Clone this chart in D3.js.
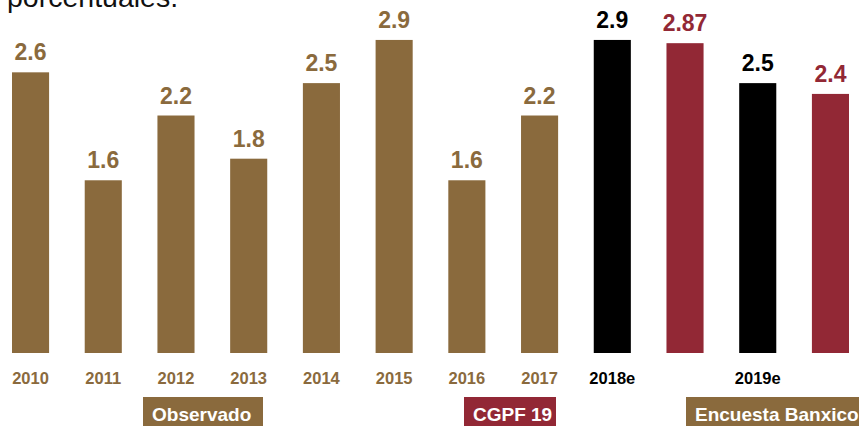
<!DOCTYPE html>
<html>
<head>
<meta charset="utf-8">
<script src="https://cdn.jsdelivr.net/npm/d3@7"></script>
<style>
  html, body { margin: 0; padding: 0; background: #fff; }
  svg { display: block; }
</style>
</head>
<body>
<svg id="chart" width="859" height="426"></svg>
<script>
// ---- data ----
const categories = ["2010","2011","2012","2013","2014","2015","2016","2017","2018e","2018c","2019e","2019c"];
const tickLabels = ["2010","2011","2012","2013","2014","2015","2016","2017","2018e","","2019e",""];
const values     = [2.6, 1.6, 2.2, 1.8, 2.5, 2.9, 1.6, 2.2, 2.9, 2.87, 2.5, 2.4];
const valueLabels = ["2.6","1.6","2.2","1.8","2.5","2.9","1.6","2.2","2.9","2.87","2.5","2.4"];
const groups     = ["obs","obs","obs","obs","obs","obs","obs","obs","banxico","cgpf","banxico","cgpf"];
const legendLabels = ["Observado","CGPF 19","Encuesta Banxico"];
const titleText = "porcentuales.";

const GOLD = "#8a6a3d", RED = "#922835", BLACK = "#000000";
const barColor = {obs: GOLD, cgpf: RED, banxico: BLACK};
const labelColor = {obs: GOLD, cgpf: RED, banxico: BLACK};

const svg = d3.select("#chart");

const x = d3.scaleBand().domain(categories).range([12, 849]).paddingInner(0.49).paddingOuter(0);
const y = d3.scaleLinear().domain([0, 3.27]).range([353, 0]);

const data = categories.map((c, i) => ({c, v: values[i], lab: valueLabels[i], g: groups[i], t: tickLabels[i]}));

// title (cut off at top, as in the reference)
svg.append("text")
  .attr("x", 7).attr("y", 7)
  .attr("font-family", "Liberation Sans, Arial, sans-serif")
  .attr("font-size", 28.5)
  .attr("fill", "#111")
  .text(titleText);

// bars
svg.selectAll("rect.bar").data(data).join("rect")
  .attr("class", "bar")
  .attr("x", d => x(d.c))
  .attr("width", x.bandwidth())
  .attr("y", d => y(d.v))
  .attr("height", d => y(0) - y(d.v))
  .attr("fill", d => barColor[d.g]);

// value labels
svg.selectAll("text.val").data(data).join("text")
  .attr("class", "val")
  .attr("x", d => x(d.c) + x.bandwidth() / 2)
  .attr("y", d => y(d.v) - 12)
  .attr("text-anchor", "middle")
  .attr("font-family", "Liberation Sans, Arial, sans-serif")
  .attr("font-weight", 700)
  .attr("font-size", 23)
  .attr("fill", d => labelColor[d.g])
  .text(d => d.lab);

// x axis tick labels
const xAxis = d3.axisBottom(x).tickSize(0).tickFormat((d, i) => tickLabels[i]);
const ax = svg.append("g").attr("transform", "translate(0,370)").call(xAxis);
ax.select(".domain").remove();
ax.selectAll("text")
  .attr("dy", 0).attr("y", 14)
  .attr("font-family", "Liberation Sans, Arial, sans-serif")
  .attr("font-weight", 700)
  .attr("font-size", 16.5)
  .attr("fill", (d, i) => (groups[i] === "obs" ? GOLD : BLACK));

// legend boxes
const legendBoxes = [
  {label: legendLabels[0], color: GOLD, x0: 143, x1: 263},
  {label: legendLabels[1], color: RED, x0: 464, x1: 556},
  {label: legendLabels[2], color: GOLD, x0: 686, x1: 870}
];
const lg = svg.append("g");
lg.selectAll("rect").data(legendBoxes).join("rect")
  .attr("x", d => d.x0).attr("y", 397)
  .attr("width", d => d.x1 - d.x0).attr("height", 29)
  .attr("fill", d => d.color);
lg.selectAll("text").data(legendBoxes).join("text")
  .attr("x", d => d.x0 + 9).attr("y", 421)
  .attr("font-family", "Liberation Sans, Arial, sans-serif")
  .attr("font-weight", 700)
  .attr("font-size", 19)
  .attr("fill", "#fff")
  .text(d => d.label);
</script>
</body>
</html>
